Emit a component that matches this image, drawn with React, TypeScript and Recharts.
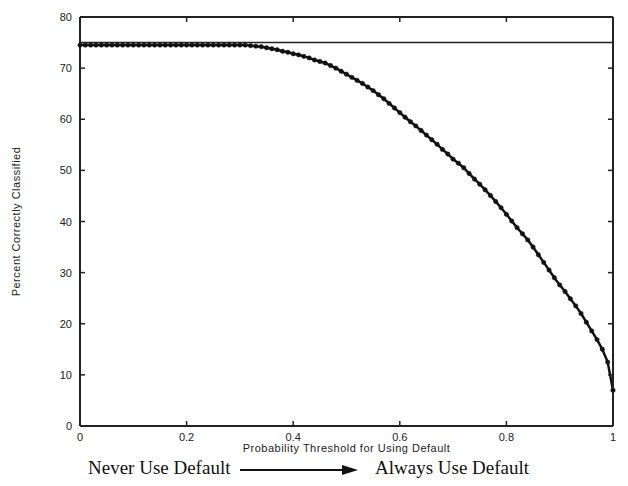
import React from 'react';
import { LineChart, Line, XAxis, YAxis, ReferenceLine } from 'recharts';

// probability threshold (x) and percent correctly classified (y)
const thresholds = [
  0, 0.01, 0.02, 0.03, 0.04, 0.05, 0.06, 0.07, 0.08, 0.09,
  0.1, 0.11, 0.12, 0.13, 0.14, 0.15, 0.16, 0.17, 0.18, 0.19,
  0.2, 0.21, 0.22, 0.23, 0.24, 0.25, 0.26, 0.27, 0.28, 0.29,
  0.3, 0.31, 0.32, 0.33, 0.34, 0.35, 0.36, 0.37, 0.38, 0.39,
  0.4, 0.41, 0.42, 0.43, 0.44, 0.45, 0.46, 0.47, 0.48, 0.49,
  0.5, 0.51, 0.52, 0.53, 0.54, 0.55, 0.56, 0.57, 0.58, 0.59,
  0.6, 0.61, 0.62, 0.63, 0.64, 0.65, 0.66, 0.67, 0.68, 0.69,
  0.7, 0.71, 0.72, 0.73, 0.74, 0.75, 0.76, 0.77, 0.78, 0.79,
  0.8, 0.81, 0.82, 0.83, 0.84, 0.85, 0.86, 0.87, 0.88, 0.89,
  0.9, 0.91, 0.92, 0.93, 0.94, 0.95, 0.96, 0.97, 0.98, 0.99,
  1,
];

const percentCorrect = [
  74.5, 74.5, 74.5, 74.5, 74.5, 74.5, 74.5, 74.5, 74.5, 74.5,
  74.5, 74.5, 74.5, 74.5, 74.5, 74.5, 74.5, 74.5, 74.5, 74.5,
  74.5, 74.5, 74.5, 74.5, 74.5, 74.5, 74.5, 74.5, 74.5, 74.5,
  74.5, 74.5, 74.4, 74.3, 74.2, 74.0, 73.8, 73.6, 73.3, 73.1,
  72.8, 72.6, 72.3, 72.0, 71.6, 71.3, 71.0, 70.5, 70.0, 69.4,
  68.8, 68.2, 67.6, 67.0, 66.3, 65.6, 64.8, 64.0, 63.1, 62.2,
  61.3, 60.4, 59.5, 58.7, 57.8, 56.9, 56.0, 55.1, 54.1, 53.2,
  52.2, 51.4, 50.5, 49.4, 48.3, 47.3, 46.2, 45.1, 43.9, 42.7,
  41.4, 40.1, 38.8, 37.6, 36.4, 35.0, 33.5, 32.0, 30.5, 29.0,
  27.6, 26.3, 24.9, 23.5, 22.0, 20.3, 18.6, 16.9, 15.0, 12.5,
  7.0,
];

const baselineAccuracy = 75;

const xTicks = [0, 0.2, 0.4, 0.6, 0.8, 1];
const yTicks = [0, 10, 20, 30, 40, 50, 60, 70, 80];
const xInnerTicks = [0.2, 0.4, 0.6, 0.8];
const yInnerTicks = [10, 20, 30, 40, 50, 60, 70];

const data = thresholds.map((t, i) => ({ t, pct: percentCorrect[i] }));

const font = '"Liberation Sans", Arial, sans-serif';
const serif = '"Liberation Serif", "Times New Roman", serif';
const ink = '#222';

const BottomTick = (props: any) => {
  const { x, y, payload } = props;
  const inner = payload.value > 0 && payload.value < 1;
  return (
    <g>
      {inner && <line x1={x} x2={x} y1={y - 6} y2={y - 11} stroke={ink} strokeWidth={1.5} />}
      <text x={x} y={y + 9} textAnchor="middle" fontSize={11} fontFamily={font} fill={ink}>
        {payload.value}
      </text>
    </g>
  );
};

const LeftTick = (props: any) => {
  const { x, y, payload } = props;
  const inner = payload.value > 0 && payload.value < 80;
  return (
    <g>
      {inner && <line x1={x + 8} x2={x + 13} y1={y} y2={y} stroke={ink} strokeWidth={1.5} />}
      <text x={x} y={y + 4} textAnchor="end" fontSize={11} fontFamily={font} fill={ink}>
        {payload.value}
      </text>
    </g>
  );
};

const TopTick = (props: any) => {
  const { x, y } = props;
  return <line x1={x} x2={x} y1={y} y2={y + 5} stroke={ink} strokeWidth={1.5} />;
};

const RightTick = (props: any) => {
  const { x, y } = props;
  return <line x1={x - 5} x2={x} y1={y} y2={y} stroke={ink} strokeWidth={1.5} />;
};

const App: React.FC = () => {
  return (
    <div style={{ position: 'absolute', left: 0, top: 0, width: 628, height: 486, background: '#fff' }}>
      <LineChart width={628} height={486} data={data} margin={{ top: 16, right: 14, bottom: 30, left: 20 }}>
        <XAxis
          dataKey="t"
          type="number"
          domain={[0, 1]}
          ticks={xTicks}
          tickSize={0}
          tickMargin={6}
          tick={<BottomTick />}
          height={30}
          axisLine={{ stroke: ink, strokeWidth: 2 }}
          label={{ value: 'Probability Threshold for Using Default', position: 'insideBottom', offset: 4, style: { fontSize: 11, letterSpacing: 0.5, fontFamily: font, fill: ink } }}
        />
        <XAxis
          xAxisId="top"
          dataKey="t"
          orientation="top"
          type="number"
          domain={[0, 1]}
          ticks={xInnerTicks}
          tickSize={0}
          tickMargin={0}
          tick={<TopTick />}
          height={1}
          axisLine={{ stroke: ink, strokeWidth: 2 }}
        />
        <YAxis
          type="number"
          domain={[0, 80]}
          ticks={yTicks}
          tickSize={0}
          tickMargin={8}
          tick={<LeftTick />}
          width={60}
          axisLine={{ stroke: ink, strokeWidth: 2 }}
          label={{ value: 'Percent Correctly Classified', angle: -90, position: 'insideLeft', offset: -4, style: { textAnchor: 'middle', fontSize: 11, letterSpacing: 0.5, fontFamily: font, fill: ink } }}
        />
        <YAxis
          yAxisId="right"
          orientation="right"
          type="number"
          domain={[0, 80]}
          ticks={yInnerTicks}
          tickSize={0}
          tickMargin={0}
          tick={<RightTick />}
          width={1}
          axisLine={{ stroke: ink, strokeWidth: 2 }}
        />
        <ReferenceLine y={baselineAccuracy} stroke={ink} strokeWidth={1.5} />
        <Line
          xAxisId="top"
          yAxisId="right"
          dataKey="pct"
          stroke="none"
          dot={false}
          activeDot={false}
          isAnimationActive={false}
        />
        <Line
          type="linear"
          dataKey="pct"
          stroke="#111"
          strokeWidth={2.5}
          dot={{ r: 2.2, fill: '#111', stroke: '#111', strokeWidth: 0.5 }}
          isAnimationActive={false}
        />
      </LineChart>
      <div style={{ position: 'absolute', left: 88, top: 457, fontFamily: serif, fontSize: 19, color: '#111', whiteSpace: 'nowrap' }}>
        Never Use Default
      </div>
      <svg style={{ position: 'absolute', left: 238, top: 463, overflow: 'visible' }} width={122} height={14}>
        <line x1={2} y1={7} x2={108} y2={7} stroke="#111" strokeWidth={2} />
        <polygon points="104,2 120,7 104,12" fill="#111" />
      </svg>
      <div style={{ position: 'absolute', left: 375, top: 457, fontFamily: serif, fontSize: 19, color: '#111', whiteSpace: 'nowrap' }}>
        Always Use Default
      </div>
    </div>
  );
};

export default App;
